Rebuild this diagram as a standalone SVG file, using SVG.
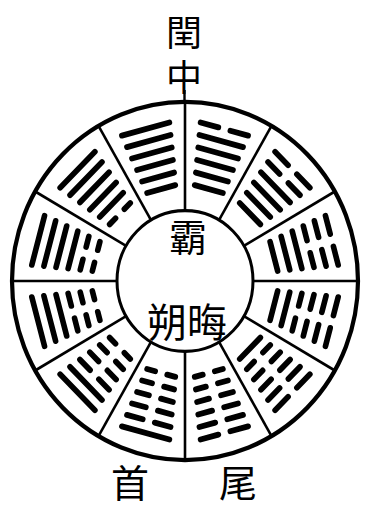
<svg xmlns="http://www.w3.org/2000/svg" xmlns:xlink="http://www.w3.org/1999/xlink" width="369" height="509" viewBox="0 0 369 509">
<style>
.bg{fill:#fff}
.ring{fill:none;stroke:#000}
.hx{fill:none;stroke:#000;stroke-width:5.6;stroke-linecap:round}
.sp{stroke:#000;stroke-width:2.6;fill:none}
.t{font-family:"Noto Sans CJK SC","Noto Sans CJK TC",sans-serif;fill:#000;text-anchor:middle}
.v{font-family:"Noto Sans CJK SC","Noto Sans CJK TC",sans-serif;fill:#000;writing-mode:vertical-rl;text-anchor:start;letter-spacing:9px}
</style>
<defs>
<path id="s0" d="M-14.6,-92H14.6"/>
<path id="s1" d="M-16.6,-104H16.6"/>
<path id="s2" d="M-18.6,-116H18.6"/>
<path id="s3" d="M-20.6,-128H20.6"/>
<path id="s4" d="M-22.6,-140H22.6"/>
<path id="s5" d="M-24.6,-152H24.6"/>
<path id="b0" d="M-14.6,-92H-6.2M6.2,-92H14.6"/>
<path id="b1" d="M-16.6,-104H-6.2M6.2,-104H16.6"/>
<path id="b2" d="M-18.6,-116H-6.2M6.2,-116H18.6"/>
<path id="b3" d="M-20.6,-128H-6.2M6.2,-128H20.6"/>
<path id="b4" d="M-22.6,-140H-6.2M6.2,-140H22.6"/>
<path id="b5" d="M-24.6,-152H-6.2M6.2,-152H24.6"/>
</defs>
<rect class="bg" x="0" y="0" width="369" height="509"/>
<g transform="translate(185,281) scale(1,1.035)">
<g id="connectors">
<g class="sp">
<line x1="0" y1="-68" x2="0" y2="-173"/>
<line x1="0" y1="-68" x2="0" y2="-173" transform="rotate(30)"/>
<line x1="0" y1="-68" x2="0" y2="-173" transform="rotate(60)"/>
<line x1="0" y1="-68" x2="0" y2="-173" transform="rotate(90)"/>
<line x1="0" y1="-68" x2="0" y2="-173" transform="rotate(120)"/>
<line x1="0" y1="-68" x2="0" y2="-173" transform="rotate(150)"/>
<line x1="0" y1="-68" x2="0" y2="-173" transform="rotate(180)"/>
<line x1="0" y1="-68" x2="0" y2="-173" transform="rotate(210)"/>
<line x1="0" y1="-68" x2="0" y2="-173" transform="rotate(240)"/>
<line x1="0" y1="-68" x2="0" y2="-173" transform="rotate(270)"/>
<line x1="0" y1="-68" x2="0" y2="-173" transform="rotate(300)"/>
<line x1="0" y1="-68" x2="0" y2="-173" transform="rotate(330)"/>
</g>
</g>
<g id="ring">
<circle class="ring" r="173" stroke-width="4.2"/>
<circle class="ring" r="68" stroke-width="3"/>
</g>
<g id="sector-guai" class="hx" transform="rotate(15)"><use href="#s0"/><use href="#s1"/><use href="#s2"/><use href="#s3"/><use href="#s4"/><use href="#b5"/></g>
<g id="sector-dazhuang" class="hx" transform="rotate(45)"><use href="#s0"/><use href="#s1"/><use href="#s2"/><use href="#s3"/><use href="#b4"/><use href="#b5"/></g>
<g id="sector-tai" class="hx" transform="rotate(75)"><use href="#s0"/><use href="#s1"/><use href="#s2"/><use href="#b3"/><use href="#b4"/><use href="#b5"/></g>
<g id="sector-lin" class="hx" transform="rotate(105)"><use href="#s0"/><use href="#s1"/><use href="#b2"/><use href="#b3"/><use href="#b4"/><use href="#b5"/></g>
<g id="sector-fu" class="hx" transform="rotate(135)"><use href="#s0"/><use href="#b1"/><use href="#b2"/><use href="#b3"/><use href="#b4"/><use href="#b5"/></g>
<g id="sector-kun" class="hx" transform="rotate(165)"><use href="#b0"/><use href="#b1"/><use href="#b2"/><use href="#b3"/><use href="#b4"/><use href="#b5"/></g>
<g id="sector-bo" class="hx" transform="rotate(195)"><use href="#b0"/><use href="#b1"/><use href="#b2"/><use href="#b3"/><use href="#b4"/><use href="#s5"/></g>
<g id="sector-guan" class="hx" transform="rotate(225)"><use href="#b0"/><use href="#b1"/><use href="#b2"/><use href="#b3"/><use href="#s4"/><use href="#s5"/></g>
<g id="sector-pi" class="hx" transform="rotate(255)"><use href="#b0"/><use href="#b1"/><use href="#b2"/><use href="#s3"/><use href="#s4"/><use href="#s5"/></g>
<g id="sector-dun" class="hx" transform="rotate(285)"><use href="#b0"/><use href="#b1"/><use href="#s2"/><use href="#s3"/><use href="#s4"/><use href="#s5"/></g>
<g id="sector-gou" class="hx" transform="rotate(315)"><use href="#b0"/><use href="#s1"/><use href="#s2"/><use href="#s3"/><use href="#s4"/><use href="#s5"/></g>
<g id="sector-qian" class="hx" transform="rotate(345)"><use href="#s0"/><use href="#s1"/><use href="#s2"/><use href="#s3"/><use href="#s4"/><use href="#s5"/></g>
</g>
<g id="label-top">
<text class="v" x="184" y="14" font-size="36">閏中</text>
<line x1="184.5" y1="90" x2="184.5" y2="103" stroke="#000" stroke-width="2.4"/>
</g>
<g id="label-center-top"><text class="t" x="188" y="251" font-size="38">霸</text></g>
<g id="label-center-bottom"><text class="t" x="187" y="337" font-size="40">朔晦</text></g>
<g id="label-head"><text class="t" x="130" y="497" font-size="38">首</text></g>
<g id="label-tail"><text class="t" x="238" y="497" font-size="38">尾</text></g>
</svg>
